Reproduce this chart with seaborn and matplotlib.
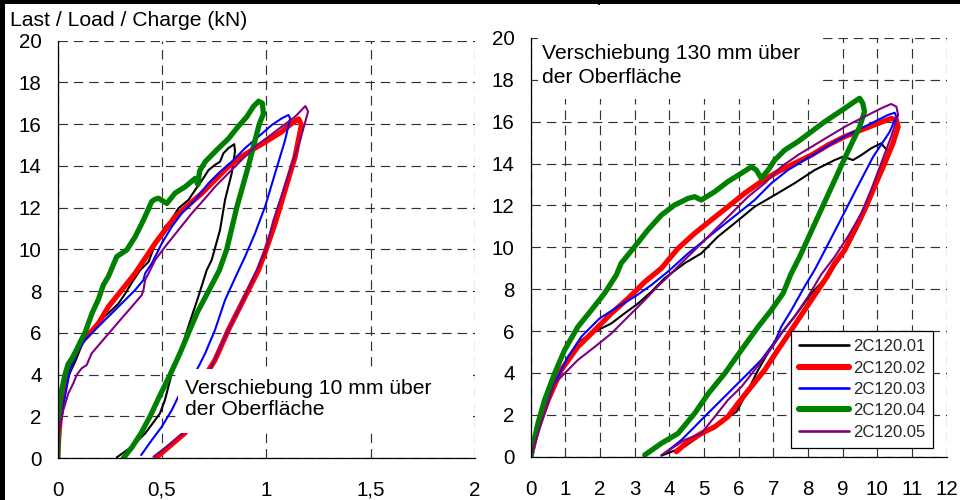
import numpy as np
import pandas as pd
import matplotlib
matplotlib.use("Agg")
import matplotlib.pyplot as plt
from matplotlib.patches import Rectangle
from matplotlib.lines import Line2D
import seaborn as sns

# ---- specimen names and colours -------------------------------------------
SPECIMENS = ["2C120.01", "2C120.02", "2C120.03", "2C120.04", "2C120.05"]
COLORS = ["#000000", "#ff0000", "#0000ff", "#008000", "#800080"]
WIDTHS = [1.5, 3.8, 1.5, 3.8, 1.5]

# ---- displacement 10 mm above surface (x in mm, load in kN) -----------------
L01_X = [0, 0.005, 0.015, 0.03, 0.055, 0.083, 0.115, 0.147, 0.19, 0.227, 0.26, 0.291, 0.325, 0.355,
         0.395, 0.435, 0.47, 0.515, 0.539, 0.579, 0.627, 0.659, 0.691, 0.723, 0.754, 0.778, 0.794,
         0.818, 0.846, 0.85, 0.834, 0.802, 0.778, 0.738, 0.714, 0.674, 0.626, 0.586, 0.547, 0.514,
         0.49, 0.467, 0.419, 0.355, 0.283]
L01_Y = [0, 1.0, 2.2, 3.2, 4.0, 4.6, 5.4, 5.98, 6.4, 6.8, 7.1, 7.4, 7.9, 8.4,
         9.0, 9.4, 10.3, 11.1, 11.33, 11.97, 12.37, 12.85, 13.3, 13.8, 14.05, 14.2, 14.6,
         14.85, 15.04, 14.7, 13.65, 12.37, 10.93, 9.49, 9.0, 7.73, 6.3, 5.02, 4.06, 2.78,
         2.14, 1.82, 1.18, 0.54, 0.03]

L02_X = [0, 0.005, 0.011, 0.027, 0.051, 0.083, 0.115, 0.147, 0.195, 0.243, 0.307, 0.371, 0.403,
         0.467, 0.515, 0.563, 0.627, 0.691, 0.754, 0.818, 0.882, 0.946, 1.01, 1.074, 1.122, 1.155,
         1.168, 1.138, 1.09, 1.042, 0.994, 0.962, 0.882, 0.818, 0.754, 0.723, 0.69, 0.65, 0.61,
         0.54, 0.475]
L02_Y = [0, 1.0, 1.8, 3.26, 4.2, 5.0, 5.58, 5.9, 6.45, 7.25, 8.05, 8.85, 9.33,
         10.29, 10.93, 11.57, 12.13, 12.69, 13.33, 13.97, 14.45, 14.85, 15.24, 15.64, 16.04, 16.25,
         15.95, 14.45, 12.85, 11.25, 9.85, 9.0, 7.41, 6.14, 4.7, 4.2, 3.3, 2.2, 1.2,
         0.6, 0.05]

L03_X = [0, 0.004, 0.011, 0.035, 0.059, 0.091, 0.131, 0.163, 0.195, 0.227, 0.275, 0.323, 0.371,
         0.411, 0.419, 0.451, 0.499, 0.547, 0.595, 0.659, 0.723, 0.771, 0.835, 0.898, 0.962, 1.026,
         1.074, 1.106, 1.114, 1.09, 1.042, 0.994, 0.946, 0.898, 0.858, 0.802, 0.754, 0.707, 0.675,
         0.63, 0.578, 0.547, 0.499, 0.451, 0.4]
L03_Y = [0, 0.8, 1.5, 2.94, 4.22, 5.02, 5.66, 5.98, 6.3, 6.62, 7.09, 7.57, 8.05,
         8.53, 8.85, 9.33, 10.29, 11.09, 11.73, 12.37, 13.17, 13.65, 14.21, 14.85, 15.4, 15.96,
         16.28, 16.44, 16.28, 15.24, 13.65, 12.05, 10.77, 9.65, 8.8, 7.57, 6.14, 5.02, 4.38,
         3.6, 2.94, 2.3, 1.5, 0.86, 0.14]

L04_X = [0, 0.002, 0.004, 0.01, 0.019, 0.035, 0.05, 0.067, 0.091, 0.11, 0.131, 0.163, 0.195, 0.219,
         0.243, 0.283, 0.331, 0.371, 0.411, 0.451, 0.467, 0.483, 0.523, 0.563, 0.611, 0.659, 0.672,
         0.68, 0.707, 0.771, 0.818, 0.866, 0.906, 0.938, 0.963, 0.981, 0.986, 0.966, 0.94, 0.914,
         0.886, 0.858, 0.834, 0.81, 0.775, 0.723, 0.67, 0.627, 0.585, 0.539, 0.49, 0.443, 0.4,
         0.355, 0.315]
L04_Y = [0, 1.0, 2.0, 2.7, 3.26, 4.0, 4.5, 4.75, 5.2, 5.6, 6.0, 6.9, 7.6, 8.3,
         8.7, 9.65, 9.97, 10.6, 11.4, 12.3, 12.4, 12.45, 12.2, 12.7, 13.0, 13.4, 13.1,
         13.75, 14.2, 14.85, 15.3, 15.9, 16.35, 16.85, 17.1, 17.0, 16.5, 16.0, 15.0, 14.0,
         13.0, 12.0, 11.0, 10.0, 9.0, 8.0, 7.0, 6.0, 5.0, 4.0, 3.0, 2.0, 1.2,
         0.5, 0.0]

L05_X = [0, 0.006, 0.027, 0.051, 0.075, 0.091, 0.115, 0.139, 0.163, 0.211, 0.259, 0.307, 0.355,
         0.403, 0.411, 0.419, 0.443, 0.467, 0.515, 0.579, 0.643, 0.707, 0.754, 0.818, 0.882, 0.946,
         1.01, 1.074, 1.138, 1.187, 1.2, 1.162, 1.098, 1.034, 1.0, 0.954, 0.874, 0.802, 0.738,
         0.69, 0.64, 0.602, 0.53, 0.459]
L05_Y = [0, 1.34, 2.3, 3.1, 3.58, 3.98, 4.3, 4.46, 5.02, 5.58, 6.14, 6.7, 7.25,
         7.81, 8.05, 8.53, 9.0, 9.49, 10.13, 10.93, 11.73, 12.45, 13.0, 13.65, 14.29, 14.93,
         15.4, 15.88, 16.36, 16.87, 16.6, 15.24, 13.33, 11.4, 10.07, 9.0, 7.25, 5.82, 4.38,
         3.3, 2.1, 1.18, 0.6, 0.06]

# ---- displacement 130 mm above surface (x in mm, load in kN) ----------------
R01_X = [0, 0.31, 0.69, 1.08, 1.46, 1.94, 2.33, 2.71, 3.1, 3.48, 3.86, 4.44, 4.92, 5.4, 5.88,
         6.46, 7.04, 7.61, 8.19, 8.77, 9.01, 9.3, 9.54, 9.82, 10.11, 10.35, 10.11, 9.82, 9.54,
         9.25, 8.96, 8.62, 8.1, 7.61, 7.23, 6.84, 6.56, 6.27, 5.94, 5.79, 5.4, 4.92, 4.44, 3.77]
R01_Y = [0, 1.91, 3.5, 4.78, 5.57, 6.05, 6.37, 6.85, 7.32, 7.88, 8.52, 9.24, 9.71, 10.51, 11.15,
         11.94, 12.5, 13.06, 13.69, 14.17, 14.33, 14.17, 14.41, 14.73, 14.97, 14.5, 13.69, 12.42, 11.3,
         10.35, 9.55, 8.75, 7.8, 6.69, 5.89, 4.94, 4.14, 3.18, 2.15, 2.0, 1.59, 1.04, 0.48, 0.05]

R02_X = [0, 0.21, 0.5, 0.88, 1.36, 1.85, 2.33, 2.81, 3.29, 3.77, 4.25, 4.73, 5.21, 5.69, 6.17,
         6.65, 7.13, 7.61, 8.1, 8.58, 9.06, 9.54, 10.02, 10.4, 10.55, 10.6, 10.45, 10.21, 9.92,
         9.63, 9.34, 9.06, 8.77, 8.55, 8.29, 7.9, 7.52, 7.13, 6.75, 6.36, 5.98, 5.69, 5.31, 4.92,
         4.54, 4.2]
R02_Y = [0, 1.43, 2.7, 4.14, 5.25, 6.05, 6.85, 7.56, 8.35, 9.0, 9.95, 10.67, 11.31, 11.94, 12.58,
         13.14, 13.61, 14.01, 14.41, 14.89, 15.29, 15.61, 15.92, 16.16, 16.08, 15.76, 14.97, 14.01, 12.9,
         11.78, 10.83, 9.87, 9.24, 8.6, 7.96, 7.0, 6.05, 5.1, 4.14, 3.34, 2.55, 1.91, 1.43, 1.11,
         0.72, 0.24]

R03_X = [0, 0.21, 0.5, 0.79, 1.08, 1.46, 1.99, 2.52, 3.0, 3.48, 3.96, 4.54, 5.02, 5.5, 5.98,
         6.46, 6.94, 7.42, 7.9, 8.38, 8.86, 9.34, 9.82, 10.3, 10.5, 10.55, 10.35, 9.88, 9.38,
         8.89, 8.39, 8.19, 7.9, 7.52, 7.23, 7.04, 6.65, 6.27, 5.88, 5.5, 5.11, 4.73, 4.35, 3.86]
R03_Y = [0, 1.6, 2.87, 3.82, 4.78, 5.73, 6.61, 7.17, 7.64, 8.2, 8.84, 9.71, 10.35, 10.99, 11.62,
         12.26, 13.06, 13.69, 14.17, 14.65, 15.13, 15.53, 15.92, 16.32, 16.43, 16.24, 15.5, 14.33, 12.74,
         11.15, 9.55, 8.92, 8.12, 7.0, 6.21, 5.49, 4.62, 3.98, 3.34, 2.71, 2.07, 1.43, 0.8, 0.16]

R04_X = [0, 0.21, 0.4, 0.69, 0.98, 1.36, 1.75, 2.13, 2.47, 2.61, 3.0, 3.38, 3.77, 4.15, 4.54,
         4.73, 4.92, 5.31, 5.69, 6.08, 6.37, 6.51, 6.65, 6.85, 7.04, 7.33, 7.71, 8.1, 8.48, 8.77,
         9.06, 9.34, 9.49, 9.58, 9.63, 9.49, 9.08, 8.64, 8.2, 7.76, 7.5, 7.28, 6.94, 6.56, 6.08,
         5.6, 5.13, 4.73, 4.25, 3.77, 3.29]
R04_Y = [0, 1.6, 2.7, 3.98, 5.1, 6.2, 7.0, 7.8, 8.68, 9.24, 10.03, 10.83, 11.54, 12.02, 12.34,
         12.42, 12.26, 12.66, 13.14, 13.54, 13.85, 13.69, 13.3, 13.69, 14.17, 14.65, 15.05, 15.53, 16.0, 16.32,
         16.64, 16.96, 17.12, 16.88, 16.48, 15.76, 14.33, 12.74, 11.15, 9.55, 8.7, 7.8, 7.0, 6.2, 5.1,
         3.98, 3.03, 2.07, 1.11, 0.64, 0.08]

R05_X = [0, 0.31, 0.69, 0.98, 1.36, 1.85, 2.33, 2.81, 3.29, 3.67, 3.9, 4.34, 4.83, 5.31, 5.79,
         6.27, 6.75, 7.23, 7.71, 8.19, 8.67, 9.15, 9.63, 10.11, 10.4, 10.55, 10.6, 10.4, 10.11,
         9.82, 9.54, 9.15, 8.77, 8.38, 8.0, 7.61, 7.23, 6.84, 6.46, 6.08, 5.69, 5.31, 4.92, 4.44,
         4.15, 3.77]
R05_Y = [0, 1.6, 3.5, 3.98, 4.62, 5.25, 5.89, 6.69, 7.48, 8.15, 8.5, 9.24, 10.03, 10.83, 11.62,
         12.42, 13.06, 13.85, 14.41, 14.89, 15.37, 15.84, 16.24, 16.64, 16.85, 16.72, 16.32, 15.29, 14.01,
         12.74, 11.62, 10.51, 9.55, 8.7, 7.64, 6.69, 5.89, 4.94, 4.14, 3.34, 2.71, 1.91, 1.11, 0.8,
         0.48, 0.08]

LEFT_SERIES = [(L01_X, L01_Y), (L02_X, L02_Y), (L03_X, L03_Y), (L04_X, L04_Y), (L05_X, L05_Y)]
RIGHT_SERIES = [(R01_X, R01_Y), (R02_X, R02_Y), (R03_X, R03_Y), (R04_X, R04_Y), (R05_X, R05_Y)]

LEFT_XTICKS = [0, 0.5, 1, 1.5, 2]
LEFT_XLABELS = ["0", "0,5", "1", "1,5", "2"]
RIGHT_XTICKS = list(range(0, 13))
YTICKS = list(range(0, 21, 2))

Y_TITLE = "Last / Load / Charge (kN)"
NOTE_LEFT = "Verschiebung 10 mm über\nder Oberfläche"
NOTE_RIGHT = "Verschiebung 130 mm über\nder Oberfläche"

# ---- styling -----------------------------------------------------------------
sns.set_theme(style="white")
plt.rcParams["font.family"] = ["Liberation Sans", "DejaVu Sans"]
plt.rcParams["axes.axisbelow"] = True

fig = plt.figure(figsize=(9.6, 5.0), dpi=100)
ax_l = fig.add_axes([0.0601, 0.084, 0.4347, 0.8346])
ax_r = fig.add_axes([0.5528, 0.0866, 0.4333, 0.8374])

GRID_KW = dict(color="#333333", linewidth=0.85, linestyle=(0, (8, 5)))


def style_axes(ax, xlim, xticks, xlabels):
    ax.set_xlim(*xlim)
    ax.set_ylim(0, 20)
    ax.set_xticks(xticks)
    ax.set_xticklabels(xlabels)
    ax.set_yticks(YTICKS)
    ax.set_yticklabels([str(v) for v in YTICKS])
    ax.grid(True, **GRID_KW)
    ax.set_facecolor("white")
    for side in ("top", "right"):
        ax.spines[side].set_visible(False)
    for side in ("left", "bottom"):
        ax.spines[side].set_color("black")
        ax.spines[side].set_linewidth(0.9)
    ax.tick_params(axis="both", which="major", direction="inout", length=9, width=0.8,
                   color="black", labelsize=14.8, labelcolor="black")
    ax.tick_params(axis="x", pad=12)
    ax.tick_params(axis="y", pad=7)
    ax.set_xlabel("")
    ax.set_ylabel("")


def draw_loops(ax, series):
    for name, color, lw, (xs, ys) in zip(SPECIMENS, COLORS, WIDTHS, series):
        df = pd.DataFrame({"x": xs, "y": ys})
        sns.lineplot(data=df, x="x", y="y", sort=False, estimator=None, color=color,
                     linewidth=lw, ax=ax, legend=False,
                     solid_joinstyle="round", solid_capstyle="round", zorder=2)


draw_loops(ax_l, LEFT_SERIES)
draw_loops(ax_r, RIGHT_SERIES)
style_axes(ax_l, (0, 2), LEFT_XTICKS, LEFT_XLABELS)
style_axes(ax_r, (0, 12), RIGHT_XTICKS, [str(v) for v in RIGHT_XTICKS])

# white label boxes
ax_l.add_patch(Rectangle((0.577, 1.2), 1.99 - 0.577, 4.27 - 1.2, facecolor="white",
                         edgecolor="none", zorder=2.3))
ax_l.text(0.612, 2.83, NOTE_LEFT, ha="left", va="center", fontsize=15.2,
          color="black", linespacing=1.15, zorder=3)

ax_r.add_patch(Rectangle((0.2, 17.07), 8.37 - 0.2, 3.6, facecolor="white",
                         edgecolor="none", zorder=2.3, clip_on=False))
ax_r.text(0.34, 18.69, NOTE_RIGHT, ha="left", va="center", fontsize=15.2,
          color="black", linespacing=1.28, zorder=3)

# legend
handles = [Line2D([0], [0], color=c, lw=w + 0.6 if w > 2 else w + 0.4, solid_capstyle="round")
           for c, w in zip(COLORS, WIDTHS)]
leg = ax_r.legend(handles, SPECIMENS, loc="lower left", bbox_to_anchor=(0.6257, 0.0208),
                  borderaxespad=0, frameon=True, fancybox=False, fontsize=12,
                  handlelength=3.0, handletextpad=0.2, labelspacing=0.38, borderpad=0.5,
                  framealpha=1)
leg.get_frame().set_edgecolor("black")
leg.get_frame().set_linewidth(0.9)
leg.set_zorder(5)

# axis title
fig.text(10 / 960, 1 - 20.7 / 500, Y_TITLE, ha="left", va="center", fontsize=15.2, color="black")

# outer frame segments
fig.add_artist(Rectangle((0, 0), 5 / 960, 1, transform=fig.transFigure, facecolor="black",
                         edgecolor="none"))
fig.add_artist(Rectangle((0, 1 - 3.5 / 500), 1, 3.5 / 500, transform=fig.transFigure,
                         facecolor="black", edgecolor="none"))
fig.add_artist(Rectangle((598 / 960, 1 - 5 / 500), 2 / 960, 5 / 500, transform=fig.transFigure,
                         facecolor="black", edgecolor="none"))

fig.savefig("out.png", dpi=100, facecolor="white")
